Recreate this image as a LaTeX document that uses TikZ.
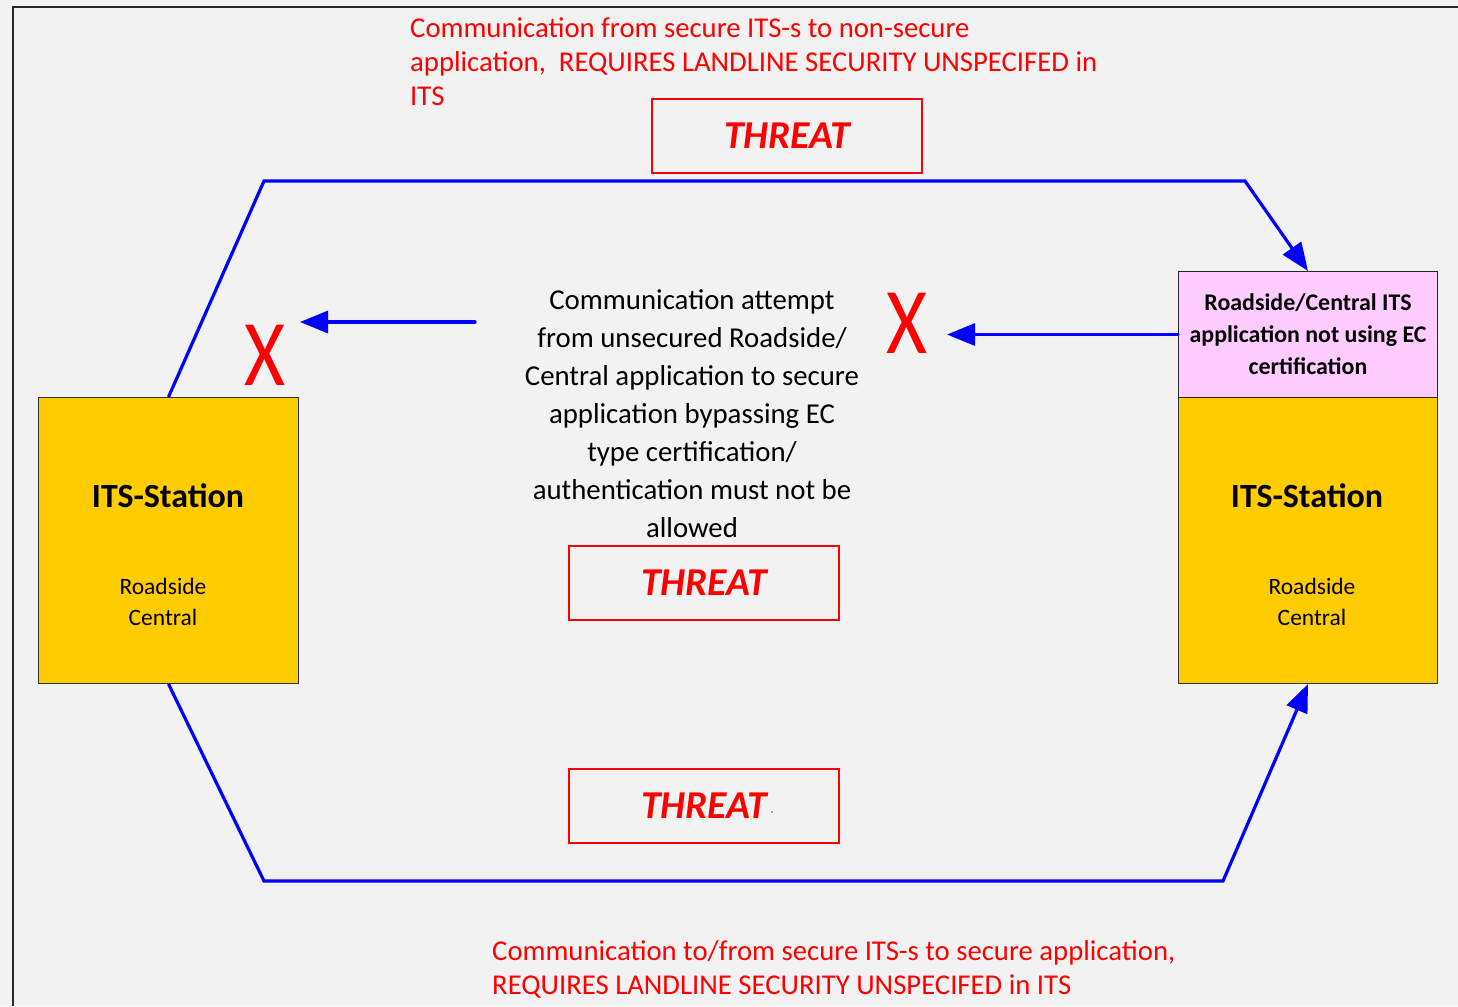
\documentclass[tikz,border=0pt]{standalone}
\usepackage{fontspec}
\setmainfont{Carlito}
\usetikzlibrary{arrows.meta}
\definecolor{bg}{HTML}{F2F2F2}
\definecolor{itsyellow}{HTML}{FFCC00}
\definecolor{pinkbox}{HTML}{FFCCFF}
\definecolor{blueline}{HTML}{0000FF}
\definecolor{redtxt}{HTML}{FF0000}
\begin{document}
\begin{tikzpicture}[x=1pt,y=-1pt,
  conn/.style={draw=blueline, line width=3.2pt, line cap=round},
  tipped/.style={-{Triangle[length=28pt,width=22pt]}},
  threatbox/.style={draw=redtxt, line width=1.5pt, minimum width=270pt, minimum height=74pt, inner sep=0pt,
     font=\fontsize{39.5}{42}\selectfont\bfseries\itshape, text=redtxt},
  itsbox/.style={draw=black!80, line width=1pt, fill=itsyellow, minimum width=260pt, minimum height=286pt, inner sep=0pt},
  pinkstyle/.style={draw=black!85, line width=1pt, fill=pinkbox, minimum width=259pt, minimum height=126pt, inner sep=0pt,
     align=center, font=\fontsize{23.9}{32}\selectfont\bfseries},
  titletxt/.style={font=\fontsize{33.9}{36}\selectfont\bfseries, inner sep=0pt},
  subtxt/.style={font=\fontsize{23.5}{31}\selectfont, align=center, inner sep=0pt},
  redlabel/.style={font=\fontsize{28.7}{34}\selectfont, text=redtxt, align=left, inner sep=0pt},
  midtxt/.style={font=\fontsize{28.8}{38}\selectfont, align=center, inner sep=0pt},
  xmark/.style={font=\fontsize{94}{100}\selectfont, text=redtxt, inner sep=0pt}
]
\useasboundingbox (0,0) rectangle (1458,1006);
\fill[bg] (0,0) rectangle (1458,1006);
\draw[line width=2pt, black!85] (12.5,1006) -- (12.5,7.5) -- (1458,7.5);

% boxes
\node[itsbox, anchor=north west] (boxL) at (38,397) {};
\node[itsbox, anchor=north west, minimum width=259pt] (boxR) at (1178,397) {};
\node[pinkstyle, anchor=north west] (pink) at (1178,271) {Roadside/Central ITS\\application not using EC\\certification};

\node[titletxt] (titleL) at (168,496) {ITS-Station};
\node[subtxt] (subL) at (163,602) {Roadside\\Central};
\node[titletxt] (titleR) at (1307,496) {ITS-Station};
\node[subtxt] (subR) at (1312,602) {Roadside\\Central};

% threat boxes
\node[threatbox] (threat1) at (787,136) {THREAT};
\node[threatbox] (threat2) at (704,583) {THREAT};
\node[threatbox] (threat3) at (704,806) {THREAT};
\fill[black!70] (772,812) circle (0.8);

% texts
\node[redlabel, anchor=north west] (toptext) at (410,17.5) {Communication from secure ITS-s to non-secure\\application,\ \ REQUIRES LANDLINE SECURITY UNSPECIFED in\\ITS};
\node[redlabel, anchor=north west] (bottext) at (492,940) {Communication to/from secure ITS-s to secure application,\\REQUIRES LANDLINE SECURITY UNSPECIFED in ITS};
\node[midtxt, anchor=north] (midtext) at (692,289) {Communication attempt\\from unsecured Roadside/\\Central application to secure\\application bypassing EC\\type certification/\\authentication must not be\\allowed};

% X marks
\node[xmark, anchor=base] (x1) at (265,385) {\scalebox{0.84}[1]{X}};
\node[xmark, anchor=base] (x2) at (907,353) {\scalebox{0.84}[1]{X}};

% connectors
\coordinate (tl) at (264,181);
\coordinate (tr) at (1245,181);
\coordinate (bl) at (264,881);
\coordinate (br) at (1223,881);
\draw[conn, tipped, line cap=butt] (boxL.north) -- (tl) -- (tr) -- (pink.north);
\draw[conn, tipped, line cap=butt] (boxL.south) -- (bl) -- (br) -- (boxR.south);

\coordinate (a1s) at (475,322);
\coordinate (a1e) at (300,322);
\draw[conn, tipped] (a1s) -- (a1e);
\coordinate (a2x) at (947,0);
\draw[conn, tipped] (pink.west) -- (pink.west -| a2x);
\end{tikzpicture}
\end{document}
